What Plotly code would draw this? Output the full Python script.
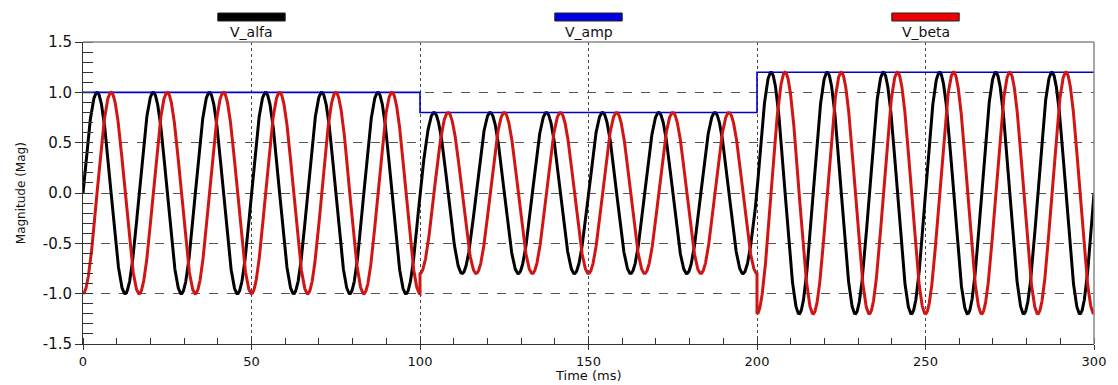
import numpy as np
import plotly.graph_objects as go

# ---- data ----
segment_start_ms = [0, 100, 200]
segment_end_ms = [100, 200, 300]
segment_amplitude = [1.0, 0.8, 1.2]
frequency_hz = 60
series_names = ["V_alfa", "V_amp", "V_beta"]
series_colors = ["#000000", "#0000cc", "#d01515"]
legend_bar_colors = ["#000000", "#0000e0", "#ee0000"]
legend_center_ms = [50, 150, 250]
y_tick_vals = [-1.5, -1.0, -0.5, 0.0, 0.5, 1.0, 1.5]
y_tick_text = ["-1.5", "-1.0", "-0.5", "0.0", "0.5", "1.0", "1.5"]
x_tick_vals = [0, 50, 100, 150, 200, 250, 300]
x_tick_text = ["0", "50", "100", "150", "200", "250", "300"]

# ---- build signals ----
t_all, alfa_all, beta_all = [], [], []
amp_t, amp_v = [], []
for t0, t1, a in zip(segment_start_ms, segment_end_ms, segment_amplitude):
    t = np.linspace(t0, t1, int((t1 - t0) * 20) + 1)
    w = 2 * np.pi * frequency_hz * t / 1000.0
    t_all.append(t)
    alfa_all.append(a * np.sin(w))
    beta_all.append(-a * np.cos(w))
    amp_t += [t0, t1]
    amp_v += [a, a]
t_all = np.concatenate(t_all)
alfa_all = np.concatenate(alfa_all)
beta_all = np.concatenate(beta_all)

fig = go.Figure()
fig.add_trace(go.Scatter(x=t_all, y=alfa_all, mode="lines", name=series_names[0],
                         line=dict(color=series_colors[0], width=3)))
fig.add_trace(go.Scatter(x=amp_t, y=amp_v, mode="lines", name=series_names[1],
                         line=dict(color=series_colors[1], width=1.6)))
fig.add_trace(go.Scatter(x=t_all, y=beta_all, mode="lines", name=series_names[2],
                         line=dict(color=series_colors[2], width=3)))

font_family = "DejaVu Sans"

fig.update_layout(
    width=1118, height=385,
    margin=dict(l=83, r=21, t=42, b=41),
    paper_bgcolor="white", plot_bgcolor="white",
    showlegend=False,
    font=dict(family=font_family, color="#111", size=14),
    xaxis=dict(
        range=[0, 300], tickvals=x_tick_vals, ticktext=x_tick_text,
        ticks="outside", ticklen=5, tickcolor="#333", tickwidth=1,
        showline=True, linecolor="#333", linewidth=1,
        showgrid=True, gridcolor="#444", griddash="dot", gridwidth=1,
        zeroline=False,
        minor=dict(dtick=10, ticks="inside", ticklen=6, tickcolor="#333", showgrid=False),
        tickfont=dict(size=13, family=font_family),
    ),
    yaxis=dict(
        range=[-1.5, 1.5], tickvals=y_tick_vals, ticktext=y_tick_text,
        ticks="outside", ticklen=7, tickcolor="#333", tickwidth=1,
        showline=True, linecolor="#333", linewidth=1,
        showgrid=True, gridcolor="#555", griddash="dash", gridwidth=1,
        zeroline=False,
        minor=dict(dtick=0.1, ticks="inside", ticklen=10, tickcolor="#333", showgrid=False),
        tickfont=dict(size=15, family=font_family),
    ),
)

# top and right frame lines (grey)
fig.add_shape(type="line", xref="paper", yref="paper", x0=0, x1=1, y0=1, y1=1,
              line=dict(color="#888", width=1.5))
fig.add_shape(type="line", xref="paper", yref="paper", x0=1, x1=1, y0=0, y1=1,
              line=dict(color="#888", width=1.5))

# legend bars and labels above the plot
for name, c, xc in zip(series_names, legend_bar_colors, legend_center_ms):
    fig.add_shape(type="rect", xref="x", yref="paper", x0=xc - 10, x1=xc + 10,
                  y0=1.0695, y1=1.096, fillcolor=c, line=dict(color="#222", width=1),
                  layer="above")
    fig.add_annotation(x=xc, y=1.033, xref="x", yref="paper", text=name,
                       showarrow=False, xanchor="center", yanchor="middle",
                       font=dict(size=14, family=font_family, color="#111"))

# axis titles
fig.add_annotation(x=-0.0611, y=0.5, xref="paper", yref="paper", text="Magnitude (Mag)",
                   textangle=-90, showarrow=False, xanchor="center", yanchor="middle",
                   font=dict(size=12, family=font_family, color="#111"))
fig.add_annotation(x=150, y=-41 / 302, xref="x", yref="paper", text="Time (ms)",
                   showarrow=False, xanchor="center", yanchor="bottom",
                   font=dict(size=13, family=font_family, color="#111"))

fig.write_html("out.html")
